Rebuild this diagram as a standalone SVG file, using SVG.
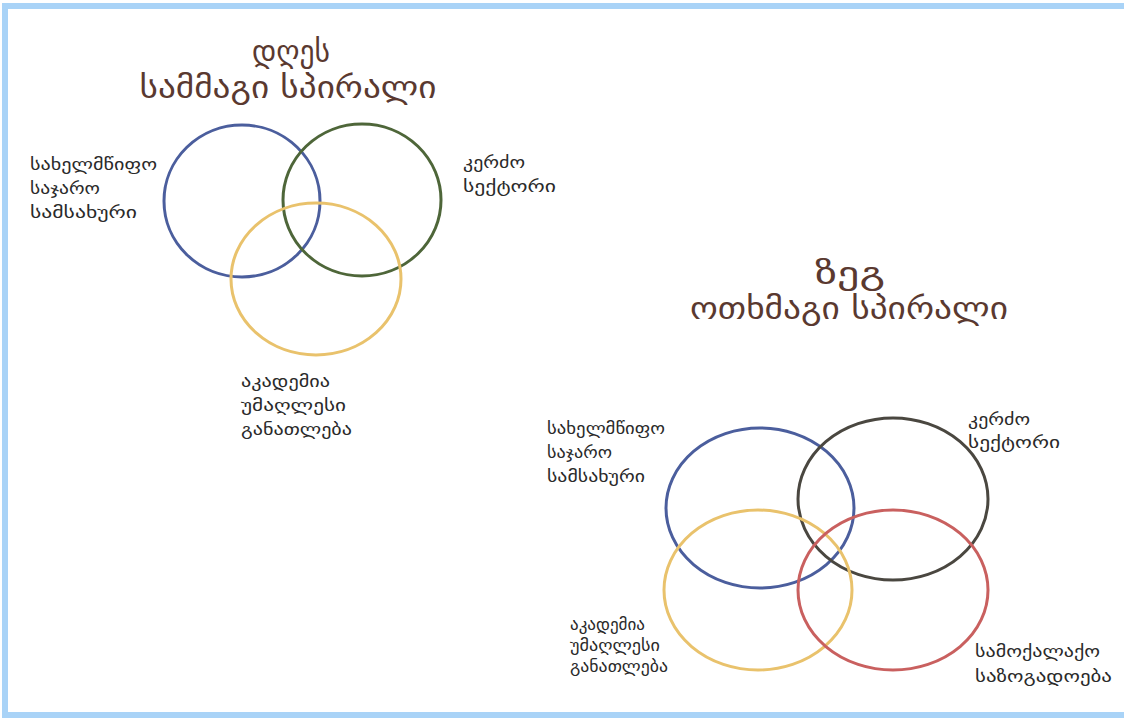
<svg xmlns="http://www.w3.org/2000/svg" width="1124" height="719" viewBox="0 0 1124 719">
<style>
.title{font-family:"DejaVu Sans",sans-serif;font-size:31px;fill:#5a3930;text-anchor:middle}
.lbl{font-family:"DejaVu Sans",sans-serif;font-size:17px;fill:#2a2a2a}
.c{fill:none;stroke-width:3}
</style>
<rect x="0" y="0" width="1124" height="719" fill="#ffffff"/>
<rect x="5" y="6" width="1140" height="709" fill="none" stroke="#a9d3f7" stroke-width="6"/>
<g id="title-left">
<text class="title" x="291" y="62" textLength="78" lengthAdjust="spacingAndGlyphs">დღეს</text>
<text class="title" x="288" y="98" textLength="297" lengthAdjust="spacingAndGlyphs">სამმაგი სპირალი</text>
</g>
<g id="title-right">
<text class="title" x="850" y="284" textLength="70" lengthAdjust="spacingAndGlyphs">ზეგ</text>
<text class="title" x="849" y="319" textLength="318" lengthAdjust="spacingAndGlyphs">ოთხმაგი სპირალი</text>
</g>
<g id="left-state">
<ellipse class="c" cx="242" cy="201" rx="78" ry="76" stroke="#4b5e9d"/>
<text class="lbl" x="30" y="170" textLength="127" lengthAdjust="spacingAndGlyphs">სახელმწიფო</text>
<text class="lbl" x="30" y="194" textLength="70" lengthAdjust="spacingAndGlyphs">საჯარო</text>
<text class="lbl" x="30" y="218" textLength="107" lengthAdjust="spacingAndGlyphs">სამსახური</text>
</g>
<g id="left-private">
<ellipse class="c" cx="362" cy="200" rx="79" ry="76" stroke="#4e6639"/>
<text class="lbl" x="463" y="168" textLength="62" lengthAdjust="spacingAndGlyphs">კერძო</text>
<text class="lbl" x="463" y="192" textLength="93" lengthAdjust="spacingAndGlyphs">სექტორი</text>
</g>
<g id="left-academia">
<ellipse class="c" cx="316" cy="279" rx="85" ry="76" stroke="#e9c26c"/>
<text class="lbl" x="241" y="387" textLength="89" lengthAdjust="spacingAndGlyphs">აკადემია</text>
<text class="lbl" x="241" y="411" textLength="105" lengthAdjust="spacingAndGlyphs">უმაღლესი</text>
<text class="lbl" x="241" y="435" textLength="111" lengthAdjust="spacingAndGlyphs">განათლება</text>
</g>
<g id="right-state">
<ellipse class="c" cx="760" cy="508" rx="94" ry="80" stroke="#4b5e9d"/>
<text class="lbl" x="547" y="434" textLength="118" lengthAdjust="spacingAndGlyphs">სახელმწიფო</text>
<text class="lbl" x="547" y="458" textLength="65" lengthAdjust="spacingAndGlyphs">საჯარო</text>
<text class="lbl" x="547" y="482" textLength="98" lengthAdjust="spacingAndGlyphs">სამსახური</text>
</g>
<g id="right-private">
<ellipse class="c" cx="893" cy="499" rx="95" ry="81" stroke="#4a4740"/>
<text class="lbl" x="968" y="425" textLength="62" lengthAdjust="spacingAndGlyphs">კერძო</text>
<text class="lbl" x="968" y="448" textLength="92" lengthAdjust="spacingAndGlyphs">სექტორი</text>
</g>
<g id="right-academia">
<ellipse class="c" cx="758" cy="590" rx="94" ry="80" stroke="#e9c26c"/>
<text class="lbl" x="570" y="630" textLength="75" lengthAdjust="spacingAndGlyphs">აკადემია</text>
<text class="lbl" x="570" y="651" textLength="90" lengthAdjust="spacingAndGlyphs">უმაღლესი</text>
<text class="lbl" x="570" y="672" textLength="98" lengthAdjust="spacingAndGlyphs">განათლება</text>
</g>
<g id="right-civil">
<ellipse class="c" cx="893" cy="590" rx="95" ry="80" stroke="#c9605f"/>
<text class="lbl" x="975" y="657" textLength="125" lengthAdjust="spacingAndGlyphs">სამოქალაქო</text>
<text class="lbl" x="975" y="682" textLength="137" lengthAdjust="spacingAndGlyphs">საზოგადოება</text>
</g>
<g id="connectors"></g>
</svg>
